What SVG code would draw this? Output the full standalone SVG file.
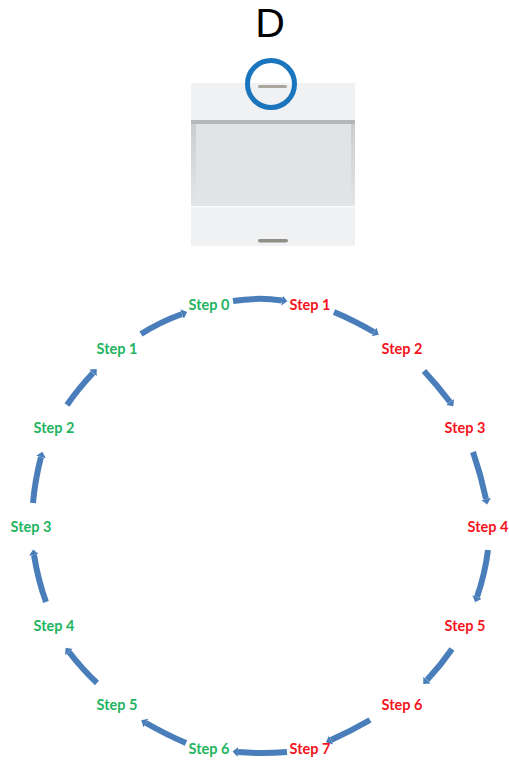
<svg xmlns="http://www.w3.org/2000/svg" width="509" height="760" viewBox="0 0 509 760">
<style>
text{font-family:"Lato","Open Sans",sans-serif;font-weight:700;font-size:14.5px;text-anchor:middle}
.g{fill:#1fb45f}.r{fill:#f5141e}
.a{fill:none;stroke:#4a7ebb;stroke-width:6;marker-end:url(#h)}
#title text{font-family:"Liberation Sans",Arial,sans-serif;font-weight:400;font-size:41px;fill:#000}
</style>
<defs>
<marker id="h" markerUnits="userSpaceOnUse" markerWidth="6" markerHeight="11" refX="0" refY="5.500" orient="auto"><path d="M0 0.500L5.500 5.500L0 10.500Z" fill="#4a7ebb"/></marker>
<linearGradient id="f" x1="0" y1="0" x2="0" y2="1"><stop offset="0" stop-color="#c9cdce"/><stop offset="0.5" stop-color="#d6d9db"/><stop offset="1" stop-color="#e3e5e7"/></linearGradient>
</defs>
<rect width="509" height="760" fill="#fff"/>
<g id="title"><text x="270" y="36.500">D</text></g>
<g id="switch">
<rect x="191" y="83" width="164" height="163" fill="#f0f1f3"/>
<rect x="191" y="120" width="164" height="87" fill="url(#f)"/>
<rect x="191" y="120" width="164" height="4" fill="#b4b8b9"/>
<rect x="196" y="124" width="155" height="82" fill="#e1e4e6"/>
<rect x="191" y="206" width="164" height="1.500" fill="#fbfcfc"/>
<rect x="258" y="85" width="29" height="3" rx="1.500" fill="#aaa69c"/>
<rect x="258" y="239" width="30" height="3.500" rx="1.700" fill="#8f8f88"/>
<circle cx="271" cy="84" r="23.500" fill="none" stroke="#1b75bc" stroke-width="5"/>
</g>
<g id="connectors">
<path class="a" d="M233 301Q258 297 282 300.500"/>
<path class="a" d="M334 312Q353 320 374 332"/>
<path class="a" d="M424 371Q437 385 450 402"/>
<path class="a" d="M473 452Q481 475 486 499"/>
<path class="a" d="M488 550Q485 574 477 597"/>
<path class="a" d="M452 649Q441 665 427 680"/>
<path class="a" d="M370 720Q351 731 331 740"/>
<path class="a" d="M287 752Q262 754 238 752"/>
<path class="a" d="M186 743Q167 735 146 723"/>
<path class="a" d="M97 683Q83 670 69 652"/>
<path class="a" d="M46 602Q38 580 34 555"/>
<path class="a" d="M33 503Q35 480 41 457"/>
<path class="a" d="M67 405Q78 389 93 373"/>
<path class="a" d="M141 334Q160 322 182 314"/>
</g>
<g id="step-0-green"><text class="g" x="209" y="310">Step 0</text></g>
<g id="step-1-red"><text class="r" x="310" y="310">Step 1</text></g>
<g id="step-2-red"><text class="r" x="402" y="354">Step 2</text></g>
<g id="step-3-red"><text class="r" x="465" y="433">Step 3</text></g>
<g id="step-4-red"><text class="r" x="488" y="532">Step 4</text></g>
<g id="step-5-red"><text class="r" x="465" y="631">Step 5</text></g>
<g id="step-6-red"><text class="r" x="402" y="710">Step 6</text></g>
<g id="step-7-red"><text class="r" x="310" y="754">Step 7</text></g>
<g id="step-6-green"><text class="g" x="209" y="754">Step 6</text></g>
<g id="step-5-green"><text class="g" x="117" y="710">Step 5</text></g>
<g id="step-4-green"><text class="g" x="54" y="631">Step 4</text></g>
<g id="step-3-green"><text class="g" x="31" y="532">Step 3</text></g>
<g id="step-2-green"><text class="g" x="54" y="433">Step 2</text></g>
<g id="step-1-green"><text class="g" x="117" y="354">Step 1</text></g>
</svg>
